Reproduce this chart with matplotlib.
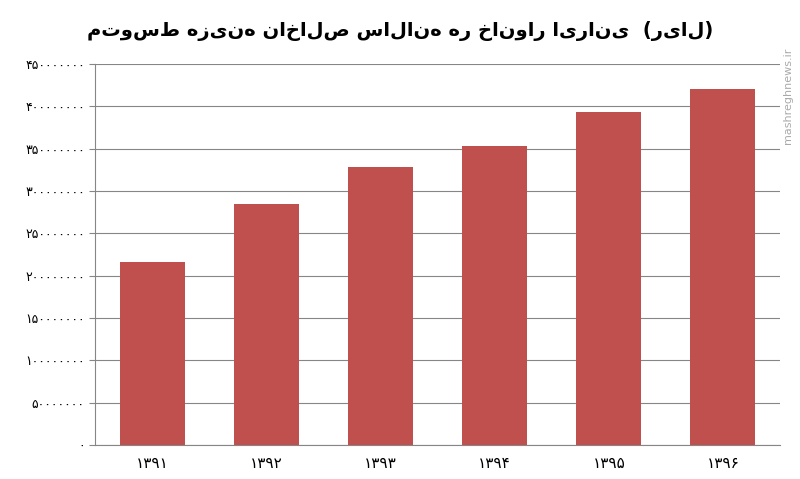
import matplotlib
matplotlib.use("Agg")
import matplotlib.pyplot as plt

years = ["۱۳۹۱", "۱۳۹۲", "۱۳۹۳", "۱۳۹۴", "۱۳۹۵", "۱۳۹۶"]
values = [216e6, 285e6, 328e6, 353e6, 393e6, 421e6]
ticks = [0, 50e6, 100e6, 150e6, 200e6, 250e6, 300e6, 350e6, 400e6, 450e6]
tick_labels = ["۰", "۵۰۰۰۰۰۰۰", "۱۰۰۰۰۰۰۰۰", "۱۵۰۰۰۰۰۰۰", "۲۰۰۰۰۰۰۰۰",
               "۲۵۰۰۰۰۰۰۰", "۳۰۰۰۰۰۰۰۰", "۳۵۰۰۰۰۰۰۰", "۴۰۰۰۰۰۰۰۰", "۴۵۰۰۰۰۰۰۰"]
title = "متوسط هزینه ناخالص سالانه هر خانوار ایرانی  (ریال)"

plt.rcParams['font.family'] = ['DejaVu Sans']
fig = plt.figure(figsize=(8, 4.79), dpi=100)
ax = fig.add_axes([0.119, 0.071, 0.856, 0.795])
x = range(len(years))
ax.bar(x, values, width=0.57, color="#c0504d", zorder=3)
ax.set_xlim(-0.5, len(years) - 0.5)
ax.set_ylim(0, 450e6)
ax.set_yticks(ticks)
ax.set_yticklabels(tick_labels, fontsize=9)
ax.set_xticks(list(x))
ax.set_xticklabels(years, fontsize=11)
ax.grid(axis="y", color="#868686", linewidth=0.8, zorder=0)
for s in ["top", "right"]:
    ax.spines[s].set_visible(False)
ax.spines["left"].set_color("#868686")
ax.spines["bottom"].set_color("#868686")
ax.tick_params(axis="y", length=4, color="#868686")
ax.tick_params(axis="x", length=0, pad=8)
fig.text(0.5, 0.935, title, ha="center", va="center", fontsize=14, fontweight="bold")
fig.text(0.985, 0.8, "mashreghnews.ir", rotation=90, ha="center", va="center",
         fontsize=8, color="#aaaaaa")
fig.savefig("out.png", dpi=100)
